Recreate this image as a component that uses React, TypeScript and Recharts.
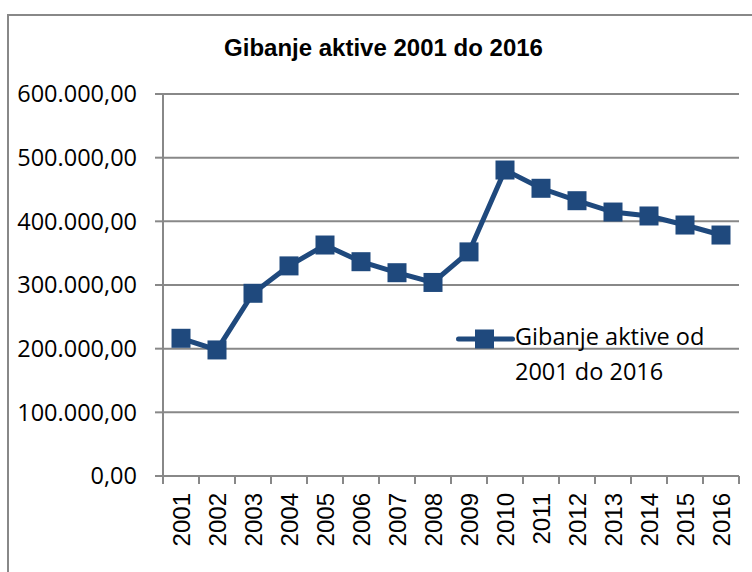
import React from "react";
import { LineChart, Line, XAxis, YAxis, CartesianGrid, Legend } from "recharts";

const title = "Gibanje aktive 2001 do 2016";
const seriesName = "Gibanje aktive od 2001 do 2016";

const years = [
  2001, 2002, 2003, 2004, 2005, 2006, 2007, 2008, 2009, 2010, 2011, 2012,
  2013, 2014, 2015, 2016,
];
const aktiva = [
  216300, 198000, 287000, 330000, 362800, 336600, 319300, 304000, 352000,
  480600, 451900, 432400, 414600, 408400, 394200, 378500,
];
const yTicks = [0, 100000, 200000, 300000, 400000, 500000, 600000];

const data = years.map((year, i) => ({ year, value: aktiva[i] }));
// tick marks sit between the years, like Excel does it
const edgeTicks = [...years.map((y) => y - 0.5), years[years.length - 1] + 0.5];
const xDomain = [edgeTicks[0], edgeTicks[edgeTicks.length - 1]];

const BLUE = "#1f497d";
const GRID = "#888888";

const formatValue = (v: number) =>
  Math.round(v)
    .toString()
    .replace(/\B(?=(\d{3})+(?!\d))/g, ".") + ",00";

const SquareDot = (props: any) => {
  const { cx, cy, index } = props;
  if (cx == null || cy == null) return null;
  return (
    <rect key={`dot-${index}`} x={cx - 9.5} y={cy - 9.5} width={19} height={19} fill={BLUE} />
  );
};

const YearTick = ({ x, y, payload }: any) => (
  <g transform={`translate(${x},${y})`}>
    <text
      transform="rotate(-90)"
      textAnchor="end"
      dy="0.36em"
      fontFamily="'Liberation Sans Narrow', 'Liberation Sans', Arial, sans-serif"
      fontSize={24}
      fill="#000"
    >
      {payload.value}
    </text>
  </g>
);

const LegendContent = ({ payload }: any) => (
  <div style={{ display: "flex", alignItems: "flex-start" }}>
    {(payload || []).map((entry: any) => (
      <React.Fragment key={entry.value}>
        <svg width={59} height={35} style={{ flex: "none" }}>
          <line x1={2.5} y1={20} x2={56.5} y2={20} stroke={BLUE} strokeWidth={5} strokeLinecap="round" />
          <rect x={19} y={10.5} width={19} height={19} fill={BLUE} />
        </svg>
        <div
          style={{
            width: 200,
            fontFamily: "'Open Sans', sans-serif",
            fontSize: 23.5,
            lineHeight: "34.5px",
            color: "#000",
          }}
        >
          {entry.value}
        </div>
      </React.Fragment>
    ))}
  </div>
);

export default function App() {
  return (
    <div
      style={{
        position: "absolute",
        left: 0,
        top: 0,
        width: 752,
        height: 572,
        overflow: "hidden",
        background: "#fff",
      }}
    >
      <div
        style={{
          position: "absolute",
          left: 7,
          top: 14,
          width: 800,
          height: 600,
          border: `2px solid ${GRID}`,
        }}
      />
      <div
        style={{
          position: "absolute",
          left: 0,
          top: 36,
          width: 767,
          textAlign: "center",
          fontFamily: "'Liberation Sans', Arial, sans-serif",
          fontWeight: "bold",
          fontSize: 24,
          lineHeight: "24px",
          color: "#000",
        }}
      >
        {title}
      </div>
      <LineChart
        width={752}
        height={572}
        data={data}
        margin={{ top: 94, right: 13, bottom: 0, left: 0 }}
      >
        <CartesianGrid xAxisId="edges" horizontal vertical={false} stroke={GRID} strokeWidth={2} />
        <XAxis
          xAxisId="edges"
          type="number"
          dataKey="year"
          domain={xDomain}
          ticks={edgeTicks}
          interval={0}
          tickFormatter={() => ""}
          tickSize={8}
          height={8}
          axisLine={{ stroke: GRID, strokeWidth: 2 }}
          tickLine={{ stroke: GRID, strokeWidth: 2 }}
        />
        <XAxis
          xAxisId="labels"
          type="number"
          dataKey="year"
          domain={xDomain}
          ticks={years}
          interval={0}
          tickSize={0}
          tickMargin={9}
          height={88}
          axisLine={false}
          tickLine={false}
          tick={<YearTick />}
        />
        <YAxis
          type="number"
          domain={[0, 600000]}
          ticks={yTicks}
          interval={0}
          tickFormatter={formatValue}
          width={163}
          tickSize={8}
          tickMargin={18}
          axisLine={{ stroke: GRID, strokeWidth: 2 }}
          tickLine={{ stroke: GRID, strokeWidth: 2 }}
          tick={{ fill: "#000", fontSize: 23.5, fontFamily: "'Open Sans', sans-serif" }}
        />
        <Legend
          layout="vertical"
          verticalAlign="middle"
          align="center"
          content={<LegendContent />}
          wrapperStyle={{ left: 456, top: 319, width: 280 }}
        />
        <Line
          xAxisId="edges"
          type="linear"
          dataKey="value"
          name={seriesName}
          stroke={BLUE}
          strokeWidth={5}
          dot={SquareDot}
          activeDot={false}
          isAnimationActive={false}
        />
      </LineChart>
    </div>
  );
}
